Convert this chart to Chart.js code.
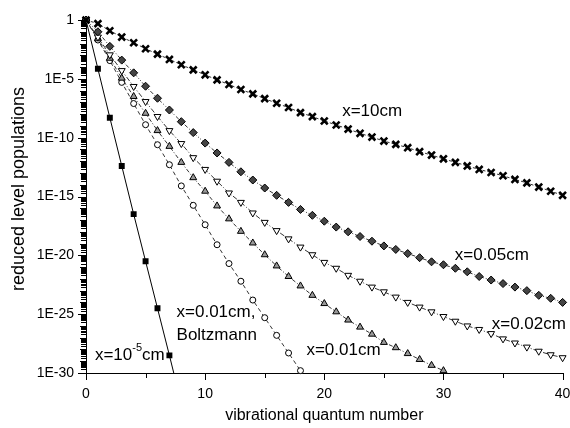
<!DOCTYPE html>
<html><head><meta charset="utf-8">
<script src="https://cdn.jsdelivr.net/npm/chart.js@4/dist/chart.umd.min.js"></script>
<style>html,body{margin:0;padding:0;background:#fff}</style>
</head><body>
<canvas id="c" width="570" height="428"></canvas>
<script>
// vibrational quantum numbers
const levels = [0,1,2,3,4,5,6,7,8,9,10,11,12,13,14,15,16,17,18,19,20,21,22,23,24,25,26,27,28,29,30,31,32,33,34,35,36,37,38,39,40];

// log10 of reduced level populations
const log_x1e5cm = [0,-4.15,-8.3,-12.4,-16.5,-20.5,-24.5,-28.5,-32.6];
const log_boltzmann = [0,-1.7,-3.45,-5.3,-7.1,-8.9,-10.6,-12.3,-14.1,-15.75,-17.4,-19.1,-20.7,-22.2,-23.8,-25.3,-26.8,-28.3,-29.8];
const log_x001cm = [0,-1.6,-3.25,-4.94,-6.5,-7.93,-9.4,-10.74,-12.1,-13.4,-14.55,-15.8,-16.9,-17.96,-18.95,-19.95,-20.9,-21.8,-22.6,-23.4,-24.1,-24.8,-25.5,-26.1,-26.7,-27.4,-27.85,-28.35,-28.85,-29.35,-29.8];
const log_x002cm = [0,-1.45,-2.96,-4.3,-5.65,-6.93,-8.2,-9.4,-10.5,-11.7,-12.7,-13.7,-14.7,-15.5,-16.4,-17.2,-17.9,-18.6,-19.3,-19.95,-20.6,-21.1,-21.7,-22.2,-22.7,-23.1,-23.55,-24.0,-24.4,-24.8,-25.2,-25.6,-26.0,-26.3,-26.65,-27.1,-27.45,-27.8,-28.15,-28.45,-28.7];
const log_x005cm = [0,-1.0,-2.24,-3.41,-4.49,-5.63,-6.65,-7.65,-8.64,-9.57,-10.46,-11.3,-12.1,-12.9,-13.6,-14.28,-14.9,-15.5,-16.1,-16.6,-17.1,-17.6,-18.0,-18.4,-18.8,-19.2,-19.5,-19.85,-20.2,-20.55,-20.8,-21.1,-21.4,-21.8,-22.1,-22.4,-22.7,-23.0,-23.4,-23.65,-24.0];
const log_x10cm = [0,-0.31,-0.91,-1.45,-1.93,-2.44,-2.9,-3.35,-3.8,-4.24,-4.66,-5.09,-5.48,-5.91,-6.28,-6.68,-7.08,-7.44,-7.87,-8.21,-8.58,-8.92,-9.27,-9.63,-9.95,-10.29,-10.57,-10.85,-11.19,-11.48,-11.8,-12.1,-12.4,-12.7,-12.96,-13.24,-13.55,-13.84,-14.2,-14.55,-14.9];

// y tick values (major)
const yTicks = [1,1e-5,1e-10,1e-15,1e-20,1e-25,1e-30];
const xTicks = [0,10,20,30,40];
const xMinorTicks = [5,15,25,35];

// curve labels (data coordinates)
const curveLabels = [
  {lines:['x=10cm'], v:21.5, logy:-7.76},
  {lines:['x=0.05cm'], v:30.95, logy:-20.0},
  {lines:['x=0.02cm'], v:34.05, logy:-25.9},
  {lines:['x=0.01cm'], v:18.5, logy:-28.1},
  {lines:['x=0.01cm,','Boltzmann'], v:7.6, logy:-24.8},
];

function pts(arr){ return arr.map((l,i)=>({x:levels[i], y:Math.pow(10,l)})); }

const datasets = [
  {label:'x=10cm', data:pts(log_x10cm), borderColor:'#333', borderWidth:1, borderDash:[3,2],
   pointStyle:'crossRot', pointRadius:4.8, pointBorderWidth:2.6, pointBorderColor:'#000', pointBackgroundColor:'#000', clip:false},
  {label:'x=0.05cm', data:pts(log_x005cm), borderColor:'#333', borderWidth:1, borderDash:[4,2,1,2,1,2],
   pointStyle:'rectRot', pointRadius:4, pointBorderWidth:1, pointBorderColor:'#000', pointBackgroundColor:'#444', clip:false},
  {label:'x=0.02cm', data:pts(log_x002cm), borderColor:'#333', borderWidth:1, borderDash:[5,2,1,2],
   pointStyle:'triangle', rotation:180, pointRadius:4, pointBorderWidth:1, pointBorderColor:'#000', pointBackgroundColor:'#fff', clip:false},
  {label:'x=0.01cm', data:pts(log_x001cm), borderColor:'#333', borderWidth:1, borderDash:[4,2,1,2],
   pointStyle:'triangle', pointRadius:4, pointBorderWidth:1, pointBorderColor:'#000', pointBackgroundColor:'#999', clip:false},
  {label:'x=0.01cm, Boltzmann', data:pts(log_boltzmann), borderColor:'#333', borderWidth:1, borderDash:[4,3],
   pointStyle:'circle', pointRadius:3, pointBorderWidth:1, pointBorderColor:'#000', pointBackgroundColor:'#fff', clip:false},
  {label:'x=10^-5cm', data:pts(log_x1e5cm), borderColor:'#000', borderWidth:1, borderDash:[],
   pointStyle:'rect', pointRadius:log_x1e5cm.map((l,i)=> i===log_x1e5cm.length-1 ? 0 : 4.2), pointBorderWidth:0, pointBorderColor:'#000', pointBackgroundColor:'#000'},
];

const FONT = "'Liberation Sans', Arial, Helvetica, sans-serif";

const extras = {
  id:'extras',
  afterDatasetsDraw(chart){
    const {ctx, scales:{x,y}} = chart;
    ctx.save();
    ctx.strokeStyle = '#000'; ctx.lineWidth = 1;
    const ax = chart.chartArea.left;
    ctx.beginPath();
    for (let e = 0; e >= -30; e--) {
      const py = Math.round(y.getPixelForValue(Math.pow(10,e))) + 0.5;
      const len = (e % 5 === 0) ? 8 : 6;
      ctx.moveTo(ax - len, py); ctx.lineTo(ax, py);
      if (e > -30) {
        for (let k = 2; k <= 9; k++) {
          const v = k * Math.pow(10, e-1);
          const pk = Math.round(y.getPixelForValue(v)) + 0.5;
          ctx.moveTo(ax - 5, pk); ctx.lineTo(ax, pk);
        }
      }
    }
    const by = chart.chartArea.bottom;
    for (const t of xTicks) {
      const px = Math.round(x.getPixelForValue(t)) + 0.5;
      ctx.moveTo(px, by); ctx.lineTo(px, by + 7);
    }
    for (const t of xMinorTicks) {
      const px = Math.round(x.getPixelForValue(t)) + 0.5;
      ctx.moveTo(px, by); ctx.lineTo(px, by + 5);
    }
    ctx.stroke();

    // curve labels
    ctx.fillStyle = '#000';
    ctx.font = '17px ' + FONT;
    ctx.textBaseline = 'middle';
    ctx.textAlign = 'left';
    for (const lab of curveLabels) {
      const px = x.getPixelForValue(lab.v);
      let py = y.getPixelForValue(Math.pow(10, lab.logy));
      for (const line of lab.lines) { ctx.fillText(line, px, py); py += 23; }
    }
    // x=10^-5 cm label with superscript
    {
      const px = x.getPixelForValue(0.75);
      const py = y.getPixelForValue(Math.pow(10,-28.5));
      ctx.font = '17px ' + FONT;
      ctx.fillText('x=10', px, py);
      let w = ctx.measureText('x=10').width;
      ctx.font = '11px ' + FONT;
      ctx.fillText('-5', px + w, py - 7);
      w += ctx.measureText('-5').width;
      ctx.font = '17px ' + FONT;
      ctx.fillText('cm', px + w, py);
    }
    // y axis title
    ctx.save();
    ctx.translate(19, 189);
    ctx.rotate(-Math.PI/2);
    ctx.textAlign = 'center';
    ctx.font = '18px ' + FONT;
    ctx.fillText('reduced level populations', 0, 0);
    ctx.restore();
    ctx.restore();
  }
};

new Chart(document.getElementById('c'), {
  type:'line',
  data:{datasets},
  options:{
    responsive:false, animation:false,
    layout:{padding:{top:20, right:7, left:0, bottom:0}},
    plugins:{legend:{display:false}, tooltip:{enabled:false}},
    elements:{line:{tension:0}},
    scales:{
      x:{type:'linear', min:0, max:40,
        afterBuildTicks(s){ s.ticks = xTicks.map(v=>({value:v})); },
        afterFit(s){ s.height = 55; s.paddingLeft = 0; s.paddingRight = 0; },
        grid:{display:false, drawTicks:false},
        border:{display:true, color:'#000', width:1},
        ticks:{color:'#000', font:{family:FONT, size:14}, padding:13, maxRotation:0},
        title:{display:true, text:'vibrational quantum number', color:'#000', font:{family:FONT, size:16}, padding:{bottom:3, top:0}}
      },
      y:{type:'logarithmic', min:1e-30, max:1,
        afterBuildTicks(s){ s.ticks = yTicks.map(v=>({value:v})); },
        afterFit(s){ s.width = 86; s.paddingTop = 0; s.paddingBottom = 0; },
        grid:{display:false, drawTicks:false},
        border:{display:true, color:'#000', width:1},
        ticks:{color:'#000', font:{family:FONT, size:14}, padding:12,
          callback(v){ const e = Math.round(Math.log10(v)); return e === 0 ? '1' : '1E' + e; }}
      }
    }
  },
  plugins:[extras]
});
</script>
</body></html>
